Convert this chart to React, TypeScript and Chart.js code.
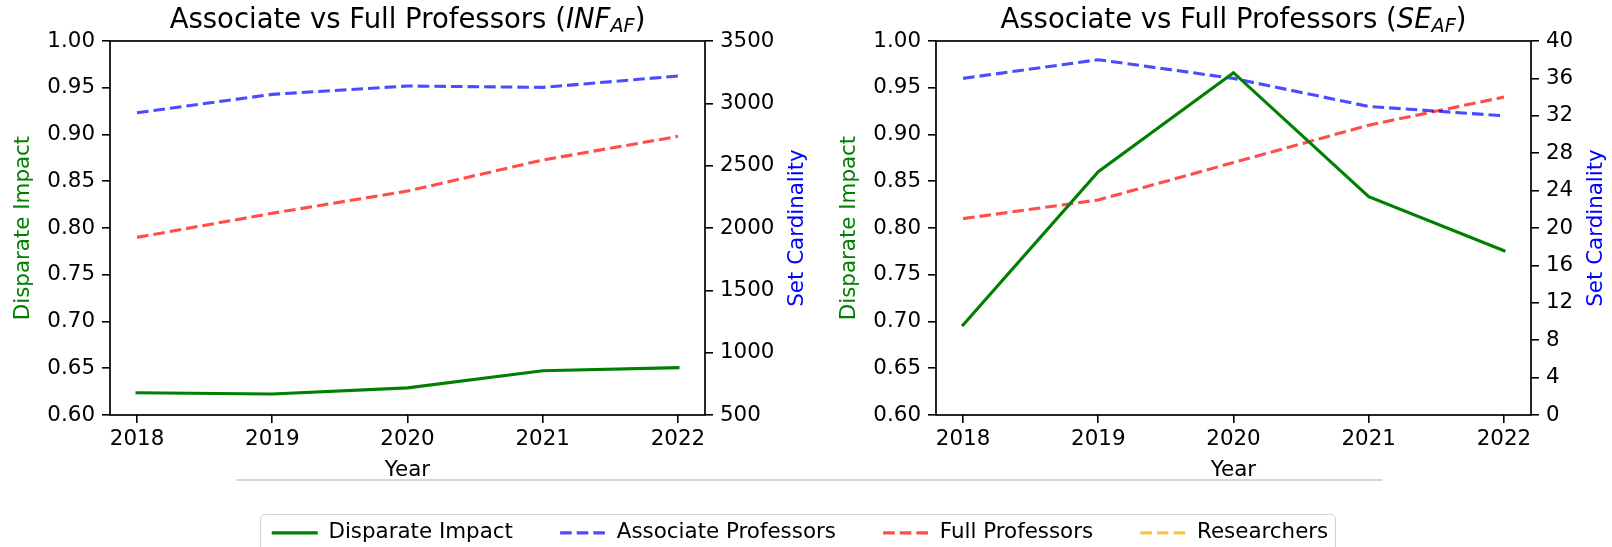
import React, { useEffect, useRef } from 'react';
import { Chart, registerables } from 'chart.js';

Chart.register(...registerables);

// ---------------- data ----------------
const YEARS = [2018, 2019, 2020, 2021, 2022];
const DI_TICKS = [0.6, 0.65, 0.7, 0.75, 0.8, 0.85, 0.9, 0.95, 1.0];
const INF_CARD_TICKS = [500, 1000, 1500, 2000, 2500, 3000, 3500];
const SE_CARD_TICKS = [0, 4, 8, 12, 16, 20, 24, 28, 32, 36, 40];

const INF_DISPARATE = [0.6238, 0.6225, 0.629, 0.6474, 0.6506];
const INF_ASSOCIATE = [2924, 3072, 3139, 3128, 3219];
const INF_FULL = [1925, 2118, 2296, 2545, 2735];

const SE_DISPARATE = [0.6963, 0.8602, 0.9661, 0.8335, 0.7757];
const SE_ASSOCIATE = [36, 38, 36, 33, 32];
const SE_FULL = [21, 23, 27, 31, 34];

const SERIES_LABELS = ['Disparate Impact', 'Associate Professors', 'Full Professors', 'Researchers'];
const TITLE_PREFIX = 'Associate vs Full Professors (';
const TITLE_SUFFIX = ')';
const INF_MATH = 'INF';
const SE_MATH = 'SE';
const MATH_SUB = 'AF';
const X_TITLE = 'Year';
const LEFT_TITLE = 'Disparate Impact';
const RIGHT_TITLE = 'Set Cardinality';

// ---------------- styles ----------------
const FAMILY = '"DejaVu Sans", sans-serif';
const FS = 21.4;
const TITLE_FS = 27.5;
const GREEN = '#008000';
const BLUE = 'rgba(0,0,255,0.7)';
const RED = 'rgba(255,0,0,0.7)';
const ORANGE = 'rgba(255,165,0,0.7)';
const SERIES_COLORS = [GREEN, BLUE, RED, ORANGE];
const DASH = [11.6, 5];
const LW = 3.1;
const TICK_LEN = 8;
const TICK_PAD = 7;

const decorPlugin = {
  id: 'decor',
  afterDraw(chart: any, _args: any, opts: any) {
    const { ctx, chartArea: a } = chart;
    ctx.save();
    // frame
    ctx.strokeStyle = '#000';
    ctx.lineWidth = 1.7;
    ctx.strokeRect(a.left, a.top, a.right - a.left, a.bottom - a.top);

    // title with math part
    const parts = [
      { text: opts.prefix, font: `normal ${TITLE_FS}px ${FAMILY}`, dy: 0 },
      { text: opts.math, font: `italic ${TITLE_FS}px ${FAMILY}`, dy: 0 },
      { text: opts.sub, font: `italic ${TITLE_FS * 0.7}px ${FAMILY}`, dy: 4.4 },
      { text: opts.suffix, font: `normal ${TITLE_FS}px ${FAMILY}`, dy: 0 },
    ];
    let total = 0;
    const widths = parts.map((p) => {
      ctx.font = p.font;
      const w = ctx.measureText(p.text).width;
      total += w;
      return w;
    });
    let x = (a.left + a.right) / 2 - total / 2;
    ctx.fillStyle = '#000';
    ctx.textBaseline = 'alphabetic';
    ctx.textAlign = 'left';
    parts.forEach((p, i) => {
      ctx.font = p.font;
      ctx.fillText(p.text, x, opts.baseline + p.dy);
      x += widths[i];
    });

    // right axis title, reading bottom-to-top
    const s = chart.scales.y1;
    const t = s.options.title;
    ctx.font = `${FS}px ${FAMILY}`;
    let maxW = 0;
    s.ticks.forEach((tk: any) => {
      maxW = Math.max(maxW, ctx.measureText(String(tk.label)).width);
    });
    const tx = a.right + TICK_LEN + TICK_PAD + maxW + opts.rightGap;
    ctx.translate(tx, (a.top + a.bottom) / 2);
    ctx.rotate(-Math.PI / 2);
    ctx.textAlign = 'center';
    ctx.textBaseline = 'middle';
    ctx.fillStyle = t.color;
    ctx.fillText(t.text, 0, 0);
    ctx.restore();
  },
};

const font = { family: FAMILY, size: FS };
const gridOpts = {
  display: true,
  drawOnChartArea: false,
  drawTicks: true,
  tickLength: TICK_LEN,
  color: '#000',
  lineWidth: 1.6,
};

function makeConfig(
  di: number[],
  assoc: number[],
  full: number[],
  cardTicks: number[],
  math: string,
  rightWidth: number
): any {
  return {
    type: 'line',
    data: {
      labels: YEARS,
      datasets: [
        {
          label: SERIES_LABELS[0],
          data: di,
          borderColor: GREEN,
          backgroundColor: GREEN,
          borderWidth: LW,
          borderCapStyle: 'square',
          pointRadius: 0,
          tension: 0,
          yAxisID: 'y',
        },
        {
          label: SERIES_LABELS[1],
          data: assoc,
          borderColor: BLUE,
          backgroundColor: BLUE,
          borderWidth: LW,
          borderDash: DASH,
          pointRadius: 0,
          tension: 0,
          yAxisID: 'y1',
        },
        {
          label: SERIES_LABELS[2],
          data: full,
          borderColor: RED,
          backgroundColor: RED,
          borderWidth: LW,
          borderDash: DASH,
          pointRadius: 0,
          tension: 0,
          yAxisID: 'y1',
        },
      ],
    },
    options: {
      animation: false,
      responsive: false,
      events: [],
      layout: { padding: { top: 41, left: 0, right: 0, bottom: 0 } },
      plugins: {
        legend: { display: false },
        tooltip: { enabled: false },
        decor: {
          prefix: TITLE_PREFIX,
          math,
          sub: MATH_SUB,
          suffix: TITLE_SUFFIX,
          baseline: 28,
          rightGap: 23,
        },
      },
      scales: {
        x: {
          type: 'linear',
          min: YEARS[0] - 0.2,
          max: YEARS[YEARS.length - 1] + 0.2,
          afterBuildTicks: (s: any) => {
            s.ticks = YEARS.map((v) => ({ value: v }));
          },
          afterFit: (s: any) => {
            s.height = 85;
          },
          ticks: {
            callback: (v: any) => String(v),
            padding: 4,
            font,
            color: '#000',
            autoSkip: false,
            maxRotation: 0,
          },
          grid: gridOpts,
          border: { display: false },
          title: {
            display: true,
            text: X_TITLE,
            color: '#000',
            font,
            padding: { top: 0, bottom: 16.5 },
          },
        },
        y: {
          type: 'linear',
          position: 'left',
          min: DI_TICKS[0],
          max: DI_TICKS[DI_TICKS.length - 1],
          afterBuildTicks: (s: any) => {
            s.ticks = DI_TICKS.map((v) => ({ value: v }));
          },
          afterFit: (s: any) => {
            s.width = 110;
          },
          ticks: {
            callback: (v: any) => Number(v).toFixed(2),
            padding: TICK_PAD,
            font,
            color: '#000',
            autoSkip: false,
          },
          grid: gridOpts,
          border: { display: false },
          title: {
            display: true,
            text: LEFT_TITLE,
            color: GREEN,
            font,
            padding: { top: 10.5, bottom: 0 },
          },
        },
        y1: {
          type: 'linear',
          position: 'right',
          min: cardTicks[0],
          max: cardTicks[cardTicks.length - 1],
          afterBuildTicks: (s: any) => {
            s.ticks = cardTicks.map((v) => ({ value: v }));
          },
          afterFit: (s: any) => {
            s.width = rightWidth;
          },
          ticks: {
            callback: (v: any) => String(v),
            padding: TICK_PAD,
            font,
            color: '#000',
            autoSkip: false,
          },
          grid: gridOpts,
          border: { display: false },
          title: { display: false, text: RIGHT_TITLE, color: 'blue' },
        },
      },
    },
    plugins: [decorPlugin],
  };
}

function legendConfig(): any {
  return {
    type: 'line',
    data: {
      labels: [],
      datasets: SERIES_LABELS.map((label, i) => ({
        label,
        data: [],
        borderColor: SERIES_COLORS[i],
        backgroundColor: SERIES_COLORS[i],
        borderWidth: LW,
        borderDash: i === 0 ? [] : DASH,
        borderCapStyle: 'butt',
      })),
    },
    options: {
      animation: false,
      responsive: false,
      events: [],
      layout: { padding: 0 },
      scales: { x: { display: false }, y: { display: false } },
      plugins: {
        tooltip: { enabled: false },
        legend: {
          display: true,
          position: 'top',
          align: 'center',
          labels: {
            usePointStyle: true,
            pointStyle: 'line',
            pointStyleWidth: 46,
            padding: 47.2,
            color: '#000',
            font,
            generateLabels: (chart: any) => {
              const items = Chart.defaults.plugins.legend.labels.generateLabels(chart);
              return items.map((it: any) => {
                const ds = chart.data.datasets[it.datasetIndex];
                return {
                  ...it,
                  pointStyle: 'line',
                  lineWidth: ds.borderWidth,
                  lineDash: ds.borderDash,
                  lineCap: 'butt',
                  strokeStyle: ds.borderColor,
                  fillStyle: ds.borderColor,
                };
              });
            },
          },
        },
      },
    },
  };
}

function ChartCanvas({ config, style, width, height }: any) {
  const ref = useRef<HTMLCanvasElement | null>(null);
  useEffect(() => {
    if (!ref.current) return;
    const chart = new Chart(ref.current, config());
    return () => chart.destroy();
  }, []);
  return (
    <canvas
      ref={ref}
      width={width}
      height={height}
      style={{ position: 'absolute', width, height, ...style }}
    />
  );
}

export default function App() {
  return (
    <div
      style={{
        position: 'absolute',
        left: 0,
        top: 0,
        width: 1612,
        height: 547,
        overflow: 'hidden',
        background: '#fff',
      }}
    >
      <ChartCanvas
        width={826}
        height={500}
        style={{ left: 0, top: 0 }}
        config={() => makeConfig(INF_DISPARATE, INF_ASSOCIATE, INF_FULL, INF_CARD_TICKS, INF_MATH, 121)}
      />
      <ChartCanvas
        width={786}
        height={500}
        style={{ left: 826, top: 0 }}
        config={() => makeConfig(SE_DISPARATE, SE_ASSOCIATE, SE_FULL, SE_CARD_TICKS, SE_MATH, 81)}
      />
      <div
        style={{
          position: 'absolute',
          left: 236,
          top: 478.5,
          width: 1147,
          height: 2,
          background: '#d6d6d6',
          borderRadius: 1,
        }}
      />
      <div
        style={{
          position: 'absolute',
          left: 260,
          top: 513.5,
          width: 1076,
          height: 80,
          border: '1.7px solid #d4d4d4',
          borderRadius: 5,
          boxSizing: 'border-box',
        }}
      />
      <ChartCanvas
        width={1600}
        height={300}
        style={{ left: 0, top: 475.3 }}
        config={legendConfig}
      />
    </div>
  );
}
